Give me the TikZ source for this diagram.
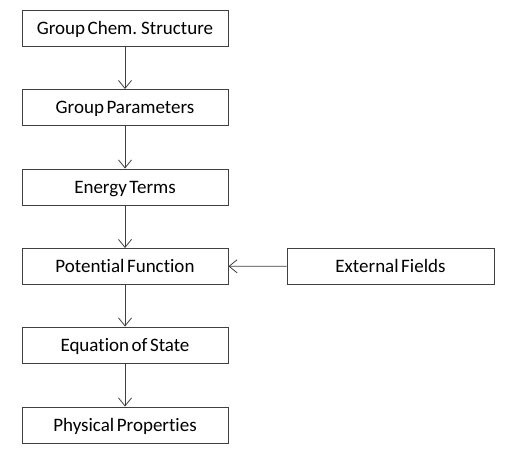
\documentclass[tikz,border=0pt]{standalone}
\usepackage{fontspec}
\setmainfont{Carlito}[Ligatures={NoCommon,NoRare},WordSpace=0.6]
\usetikzlibrary{arrows.meta}
\begin{document}
\begin{tikzpicture}[x=1pt,y=-1pt,
  boxnode/.style={draw=black!75,line width=0.9pt,minimum width=206pt,minimum height=36pt,inner sep=0pt,text height=12.5pt,text depth=-1.5pt,font=\fontsize{19}{22}\selectfont,text=black},
  conn/.style={draw=black!75,line width=0.8pt,-{Straight Barb[length=8pt,width=13pt,line width=0.8pt]}}]
\useasboundingbox[fill=white] (0,0) rectangle (509,459);
\node[boxnode] (b1) at (125,28.5) {Group Chem. Structure};
\node[boxnode] (b2) at (125,107.5) {Group Parameters};
\node[boxnode] (b3) at (125,187) {Energy Terms};
\node[boxnode] (b4) at (125,266.5) {Potential Function};
\node[boxnode] (b5) at (125,345) {Equation of State};
\node[boxnode] (b6) at (125,425) {Physical Properties};
\node[boxnode,minimum width=207pt] (ef) at (390.5,266) {External Fields};
\draw[conn] (b1) -- (b2);
\draw[conn] (b2) -- (b3);
\draw[conn] (b3) -- (b4);
\draw[conn] (b4) -- (b5);
\draw[conn] (b5) -- (b6);
\draw[conn] (ef) -- (b4);
\end{tikzpicture}
\end{document}
